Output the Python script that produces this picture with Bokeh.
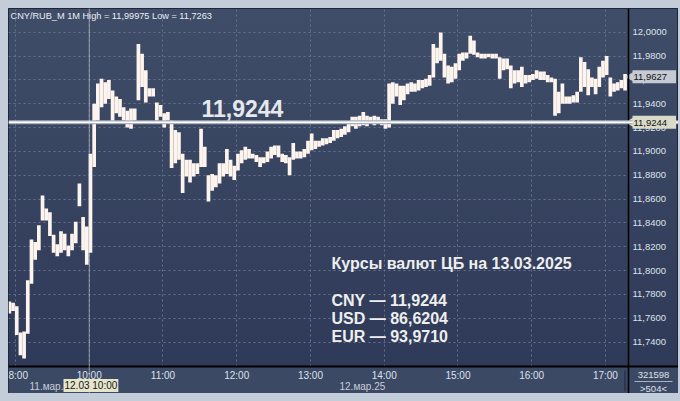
import math
from bokeh.plotting import figure
from bokeh.models import (Range1d, FixedTicker, CustomJSTickFormatter, Span, Label,
                          BoxAnnotation, ColumnDataSource, GlobalInlineStyleSheet)
from bokeh.embed import file_html
from bokeh.resources import INLINE

# ---------------- data (CNY/RUB, 1-minute bars, grouped by 3 bars: low / high) ----------------
lows = [11.764, 11.766, 11.746, 11.729, 11.7263, 11.747, 11.789, 11.809, 11.817, 11.842,
        11.842, 11.829, 11.815, 11.812, 11.815, 11.817, 11.812, 11.817, 11.823, 11.854,
        11.817, 11.805, 11.815, 11.887, 11.926, 11.937, 11.940, 11.944, 11.923, 11.932,
        11.929, 11.926, 11.920, 11.919, 11.926, 11.943, 11.954, 11.941, 11.946, 11.946,
        11.926, 11.929, 11.920, 11.926, 11.886, 11.890, 11.893, 11.865, 11.879, 11.874,
        11.879, 11.881, 11.887, 11.887, 11.858, 11.867, 11.870, 11.873, 11.879, 11.881,
        11.879, 11.876, 11.884, 11.890, 11.893, 11.894, 11.894, 11.891, 11.887, 11.890,
        11.891, 11.894, 11.897, 11.895, 11.891, 11.890, 11.880, 11.893, 11.894, 11.894,
        11.895, 11.898, 11.901, 11.902, 11.904, 11.905, 11.906, 11.907, 11.909, 11.911,
        11.912, 11.914, 11.916, 11.921, 11.919, 11.921, 11.922, 11.921, 11.923, 11.922,
        11.923, 11.922, 11.919, 11.920, 11.940, 11.946, 11.939, 11.943, 11.948, 11.950,
        11.950, 11.951, 11.953, 11.954, 11.955, 11.962, 11.974, 11.976, 11.962, 11.957,
        11.958, 11.961, 11.968, 11.976, 11.978, 11.982, 11.981, 11.979, 11.978, 11.978,
        11.979, 11.978, 11.978, 11.961, 11.968, 11.969, 11.953, 11.957, 11.958, 11.954,
        11.957, 11.958, 11.960, 11.961, 11.960, 11.960, 11.958, 11.958, 11.930, 11.932,
        11.940, 11.940, 11.940, 11.941, 11.941, 11.950, 11.954, 11.947, 11.954, 11.948,
        11.954, 11.962, 11.964, 11.946, 11.950, 11.951, 11.953, 11.951]
highs = [11.774, 11.773, 11.770, 11.748, 11.749, 11.792, 11.826, 11.824, 11.838, 11.863,
         11.852, 11.849, 11.830, 11.822, 11.833, 11.831, 11.821, 11.831, 11.841, 11.873,
         11.845, 11.837, 11.898, 11.940, 11.957, 11.961, 11.958, 11.960, 11.951, 11.946,
         11.944, 11.937, 11.934, 11.936, 11.936, 11.990, 11.982, 11.968, 11.953, 11.953,
         11.941, 11.939, 11.932, 11.933, 11.926, 11.918, 11.916, 11.898, 11.893, 11.893,
         11.890, 11.890, 11.919, 11.904, 11.880, 11.881, 11.880, 11.890, 11.890, 11.902,
         11.893, 11.888, 11.898, 11.901, 11.904, 11.902, 11.898, 11.897, 11.895, 11.895,
         11.900, 11.904, 11.905, 11.905, 11.898, 11.897, 11.895, 11.907, 11.900, 11.900,
         11.902, 11.909, 11.915, 11.909, 11.909, 11.911, 11.911, 11.912, 11.918, 11.918,
         11.919, 11.921, 11.925, 11.929, 11.929, 11.930, 11.933, 11.930, 11.929, 11.930,
         11.929, 11.927, 11.927, 11.957, 11.958, 11.957, 11.955, 11.955, 11.957, 11.958,
         11.957, 11.960, 11.960, 11.961, 11.964, 11.990, 11.987, 11.99975, 11.982, 11.972,
         11.971, 11.974, 11.982, 11.983, 11.983, 11.997, 11.993, 11.983, 11.982, 11.982,
         11.982, 11.982, 11.982, 11.979, 11.978, 11.978, 11.972, 11.968, 11.968, 11.971,
         11.964, 11.964, 11.965, 11.968, 11.967, 11.967, 11.964, 11.962, 11.961, 11.950,
         11.957, 11.946, 11.946, 11.947, 11.950, 11.979, 11.975, 11.969, 11.962, 11.961,
         11.971, 11.976, 11.980, 11.962, 11.957, 11.958, 11.960, 11.965]
bars_per_group = 3

time_tick_idx = [6, 66, 126, 186, 246, 306, 366, 426, 486]
time_tick_labels = ["8:00", "10:00", "11:00", "12:00", "13:00", "14:00", "15:00", "16:00", "17:00"]
price_ticks = [11.74, 11.76, 11.78, 11.80, 11.82, 11.84, 11.86, 11.88, 11.90,
               11.92, 11.94, 11.96, 11.98, 12.00]

cb_rate_cny = "11,9244"
cb_level = 11.9244
last_price = 11.9627
last_label = "11,9627"
cursor_idx = 66
cursor_label = "12.03 10:00"
date_labels = ["11.мар.25", "12.мар.25"]
bar_count = "321598"
visible_bars = ">504<"
header = "CNY/RUB_M 1M High = 11,99975 Low = 11,7263"
info_title = "Курсы валют ЦБ на 13.03.2025"
info_lines = ["CNY — 11,9244", "USD — 86,6204", "EUR — 93,9710"]

# ---------------- layout helpers (page pixels -> data coordinates) ----------------
PX_BAR = 1.229      # pixels per 1-minute bar
PX_UNIT = 1192.0    # pixels per 1.0 of price


def X(px):
    return 0.304 + (px - 8) / PX_BAR


def Y(py):
    return 12.01988 - (py - 8) / PX_UNIT


W, H = 670, 385
FONT = "Liberation Sans"
LIGHT = "#dde2ea"

p = figure(width=W, height=H, output_backend="svg", toolbar_location=None,
           x_range=Range1d(X(8), X(8 + W)), y_range=Range1d(Y(8 + H), Y(8)),
           y_axis_location="right",
           min_border_left=0, min_border_top=0, min_border_bottom=0, min_border_right=0)
p.background_fill_alpha = 0
p.border_fill_alpha = 0
p.outline_line_color = "#1e2638"
p.styles = {"background": "linear-gradient(to bottom, #404d69 0px, #2e3a57 358px, #2e3a57 385px)"}
p.stylesheets = [GlobalInlineStyleSheet(
    css="html, body { background: #c3cdd9; } body { padding: 8px 0 0 8px; }")]

# bottom axis strip
p.add_layout(BoxAnnotation(left=X(8), right=X(8 + W), top=Y(366), bottom=Y(8 + H),
                           fill_color="#3c4965", fill_alpha=1, line_color=None, level="underlay"))

# grid
for g in (p.xgrid, p.ygrid):
    g.grid_line_color = "#66728d"
    g.grid_line_dash = "2 3"
    g.grid_line_width = 1
p.xgrid.cross_bounds = (Y(366), Y(8))
p.ygrid.cross_bounds = (X(8), X(628))

# x axis (drawn at the bottom of the price area)
p.xaxis.fixed_location = Y(366)
p.xaxis.ticker = FixedTicker(ticks=time_tick_idx)
p.xaxis.major_label_overrides = {i: s for i, s in zip(time_tick_idx, time_tick_labels)}
p.xaxis.major_tick_line_color = None
p.xaxis.major_tick_out = 0
p.xaxis.major_tick_in = 0
p.xaxis.minor_tick_line_color = None
p.xaxis.minor_tick_out = 0
p.xaxis.axis_line_color = "black"
p.xaxis.axis_line_width = 2
p.xaxis.major_label_text_color = LIGHT
p.xaxis.major_label_text_font = FONT
p.xaxis.major_label_text_font_size = "10px"
p.xaxis.major_label_standoff = 3

# y axis (price scale on the right)
p.yaxis.fixed_location = X(628)
p.yaxis.ticker = FixedTicker(ticks=price_ticks)
p.yaxis.formatter = CustomJSTickFormatter(code="return tick.toFixed(4).replace('.', ',');")
p.yaxis.major_tick_line_color = None
p.yaxis.major_tick_out = 0
p.yaxis.major_tick_in = 0
p.yaxis.minor_tick_line_color = None
p.yaxis.minor_tick_out = 0
p.yaxis.axis_line_color = "black"
p.yaxis.axis_line_width = 1.5
p.yaxis.major_label_text_color = LIGHT
p.yaxis.major_label_text_font = FONT
p.yaxis.major_label_text_font_size = "9.5px"
p.yaxis.major_label_standoff = 4

# bars
x_idx = [bars_per_group * g + 1 for g in range(len(highs))]
src = ColumnDataSource(dict(x=x_idx, top=highs, bottom=lows))
p.vbar(x="x", top="top", bottom="bottom", width=3.0, source=src,
       fill_color="#fdf4ee", line_color=None)

# CB level line and cursor line
p.add_layout(Span(location=cb_level, dimension="width", line_color="#a9b0bd", line_width=4))
p.add_layout(Span(location=cb_level, dimension="width", line_color="#ffffff", line_width=1.5))
p.add_layout(Span(location=cursor_idx, dimension="height", line_color="#e8e8e8",
                  line_dash="1 1", line_width=1))

# texts in the price area
p.add_layout(Label(x=X(10), y=Y(10), text=header, text_font=FONT, text_font_size="9.2px",
                   text_color="#e9edf3", text_baseline="top"))
p.add_layout(Label(x=X(201), y=Y(108), text=cb_rate_cny, text_font=FONT, text_font_size="23px",
                   text_font_style="bold", text_color="#e6e8ec", text_baseline="alphabetic"))
p.add_layout(Label(x=X(331), y=Y(263), text=info_title, text_font=FONT, text_font_size="16px",
                   text_font_style="bold", text_color="#eeeeee", text_baseline="alphabetic"))
for k, line in enumerate(info_lines):
    p.add_layout(Label(x=X(331), y=Y(300 + 18 * k), text=line, text_font=FONT,
                       text_font_size="16px", text_font_style="bold", text_color="#eeeeee",
                       text_baseline="alphabetic"))

# bottom strip extras
p.add_layout(Label(x=X(29), y=Y(386), text=date_labels[0], text_font=FONT, text_font_size="10px",
                   text_color="#c8cdd7", text_baseline="middle"))
p.add_layout(Label(x=X(63), y=Y(385), text=cursor_label, text_font=FONT, text_font_size="10px",
                   text_color="#151515", text_baseline="middle",
                   background_fill_color="#e6e5cc", padding=1))
p.add_layout(Label(x=X(339), y=Y(386), text=date_labels[1], text_font=FONT, text_font_size="10px",
                   text_color="#c8cdd7", text_baseline="middle"))
p.add_layout(BoxAnnotation(left=X(624), right=X(625), top=Y(370), bottom=Y(391),
                           fill_color="#1e2638", fill_alpha=1, line_color=None))
p.add_layout(Label(x=X(653), y=Y(374), text=bar_count, text_font=FONT, text_font_size="9.5px",
                   text_color=LIGHT, text_baseline="middle", text_align="center"))
p.add_layout(BoxAnnotation(left=X(634), right=X(672), top=Y(380.5), bottom=Y(381.5),
                           fill_color="#aab2bf", fill_alpha=1, line_color=None))
p.add_layout(Label(x=X(653), y=Y(388), text=visible_bars, text_font=FONT, text_font_size="9.5px",
                   text_color=LIGHT, text_baseline="middle", text_align="center"))

# price tags on the right scale
for price, txt, col in ((last_price, last_label, "#c6cbd3"), (cb_level, cb_rate_cny, "#d9dbc8")):
    p.scatter(x=[X(631)], y=[price], marker="triangle", angle=math.pi / 2, size=11,
              fill_color=col, line_color=None)
    p.add_layout(Label(x=X(632), y=price, text=txt + "   ", text_font=FONT, text_font_size="9.5px",
                       text_color="#121212", text_baseline="middle",
                       background_fill_color=col, padding=1))

open("out.html", "w").write(file_html(p, INLINE))
